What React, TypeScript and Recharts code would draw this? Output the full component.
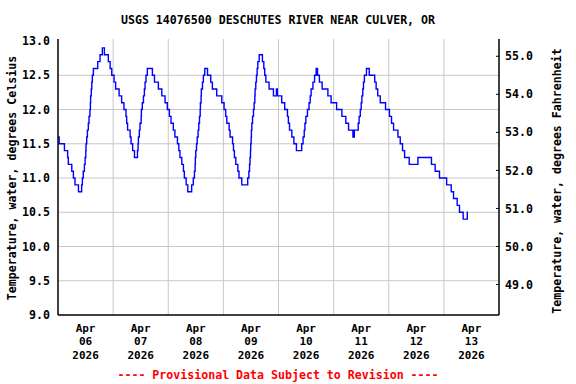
import React from "react";
import { LineChart, Line, XAxis, YAxis, ReferenceLine } from "recharts";

// Hours since Apr 06 2026 00:00 at which the reading changes, and the reading (deg C)
const hours = [
  0, 0.5, 2.8, 4.2, 4.5, 6.0, 6.7, 7.4, 8.9, 10.3, 10.6, 11.0, 11.5, 11.8, 12.1, 12.2, 12.5, 12.8, 13.2, 13.5,
  13.9, 14.1, 14.2, 14.5, 14.7, 14.95, 15.4, 17.3, 18.3, 19.3, 20.2, 21.9, 22.7, 23.4, 24.4, 25.1, 26.6, 27.7, 28.7, 29.6,
  29.9, 30.3, 31.4, 31.8, 32.5, 33.3, 34.6, 34.85, 35.0, 35.4, 35.7, 36.2, 36.3, 36.7, 37.2, 37.6, 37.9, 38.3, 38.9, 41.1,
  42.0, 43.7, 45.2, 46.6, 47.6, 48.5, 49.2, 50.2, 50.9, 52.0, 52.6, 53.1, 53.9, 54.6, 55.0, 55.8, 56.5, 58.2, 58.9, 59.4,
  59.7, 59.8, 60.0, 60.3, 60.6, 61.0, 61.3, 61.6, 61.9, 62.0, 62.3, 62.4, 62.9, 63.3, 63.9, 65.1, 66.5, 67.2, 69.1, 71.3,
  72.3, 73.0, 73.5, 74.5, 74.9, 76.0, 76.4, 76.8, 77.4, 78.3, 78.8, 80.0, 82.6, 83.1, 83.4, 83.6, 83.8, 83.9, 84.1, 84.2,
  84.4, 84.7, 85.1, 85.4, 85.7, 85.8, 86.1, 86.4, 86.7, 87.0, 87.6, 89.0, 89.6, 90.0, 90.5, 91.9, 93.8, 95.1, 95.5, 97.4,
  98.7, 99.9, 100.3, 100.8, 101.8, 102.7, 103.8, 106.1, 106.7, 107.2, 107.5, 107.9, 108.6, 109.3, 109.8, 110.2, 111.0, 111.7, 112.4, 113.0,
  113.8, 115.0, 117.5, 118.9, 121.3, 123.6, 125.3, 126.5, 128.4, 129.0, 130.7, 131.1, 131.6, 132.0, 132.3, 132.7, 133.0, 133.4, 134.3, 135.5,
  137.9, 138.5, 139.2, 140.3, 142.6, 144.3, 145.2, 146.1, 148.0, 149.0, 150.0, 150.9, 152.9, 156.7, 162.6, 164.2, 166.1, 169.2, 171.2, 172.2,
  173.8, 174.8, 176.4, 178.2, 178.5,
];
const tempC = [
  11.6, 11.5, 11.4, 11.3, 11.2, 11.1, 11.0, 10.9, 10.8, 10.9, 11.0, 11.1, 11.2, 11.3, 11.4, 11.5, 11.6, 11.7, 11.8, 11.9,
  12.0, 12.1, 12.2, 12.3, 12.4, 12.5, 12.6, 12.7, 12.8, 12.9, 12.8, 12.7, 12.6, 12.5, 12.4, 12.3, 12.2, 12.1, 12.0, 11.9,
  11.8, 11.7, 11.6, 11.5, 11.4, 11.3, 11.4, 11.5, 11.6, 11.7, 11.8, 11.9, 12.0, 12.1, 12.2, 12.3, 12.4, 12.5, 12.6, 12.5,
  12.4, 12.3, 12.2, 12.1, 12.0, 11.9, 11.8, 11.7, 11.6, 11.5, 11.4, 11.3, 11.2, 11.1, 11.0, 10.9, 10.8, 10.9, 11.0, 11.1,
  11.2, 11.3, 11.4, 11.5, 11.6, 11.7, 11.8, 11.9, 12.0, 12.1, 12.2, 12.3, 12.4, 12.5, 12.6, 12.5, 12.4, 12.3, 12.2, 12.1,
  12.0, 11.9, 11.8, 11.7, 11.6, 11.5, 11.4, 11.3, 11.2, 11.1, 11.0, 10.9, 11.0, 11.1, 11.2, 11.3, 11.4, 11.5, 11.6, 11.7,
  11.8, 11.9, 12.0, 12.1, 12.2, 12.3, 12.4, 12.5, 12.6, 12.7, 12.8, 12.7, 12.6, 12.5, 12.4, 12.3, 12.2, 12.3, 12.2, 12.1,
  12.0, 11.9, 11.8, 11.7, 11.6, 11.5, 11.4, 11.5, 11.6, 11.7, 11.8, 11.9, 12.0, 12.1, 12.2, 12.3, 12.4, 12.5, 12.6, 12.5,
  12.4, 12.3, 12.2, 12.1, 12.0, 11.9, 11.8, 11.7, 11.6, 11.7, 11.8, 11.9, 12.0, 12.1, 12.2, 12.3, 12.4, 12.5, 12.6, 12.5,
  12.4, 12.3, 12.2, 12.1, 12.0, 11.9, 11.8, 11.7, 11.6, 11.5, 11.4, 11.3, 11.2, 11.3, 11.2, 11.1, 11.0, 10.9, 10.8, 10.7,
  10.6, 10.5, 10.4, 10.5, 10.5,
];

// Axis ticks / labels
const dayTickHours = [12, 36, 60, 84, 108, 132, 156, 180];
const dayMonths = ["Apr", "Apr", "Apr", "Apr", "Apr", "Apr", "Apr", "Apr"];
const dayNumbers = ["06", "07", "08", "09", "10", "11", "12", "13"];
const dayYears = ["2026", "2026", "2026", "2026", "2026", "2026", "2026", "2026"];
const midnightHours = [24, 48, 72, 96, 120, 144, 168];
const celsiusTicks = [9.0, 9.5, 10.0, 10.5, 11.0, 11.5, 12.0, 12.5, 13.0];
const celsiusGrid = [9.5, 10.0, 10.5, 11.0, 11.5, 12.0, 12.5];
const fahrenheitTicks = [49, 50, 51, 52, 53, 54, 55];
const celsiusDomain = [9.0, 13.03];
const fahrenheitDomain = celsiusDomain.map((c) => c * 1.8 + 32);

const title = "USGS 14076500 DESCHUTES RIVER NEAR CULVER, OR";
const leftTitle = "Temperature, water, degrees Celsius";
const rightTitle = "Temperature, water, degrees Fahrenheit";
const footer = "---- Provisional Data Subject to Revision ----";

const data = hours.map((h, i) => ({ h, t: tempC[i] }));

const FONT = "'DejaVu Sans Mono', 'Liberation Mono', monospace";
const FS = 11.6;
const FS_DATE = 11;

const DateTick = (props: any) => {
  const { x, y, payload } = props;
  const i = dayTickHours.indexOf(payload.value);
  if (i < 0) return null;
  const st = { fontFamily: FONT, fontSize: FS_DATE, fontWeight: "bold" as const, fill: "#000" };
  return (
    <g>
      <text x={x} y={y + 16.5} textAnchor="middle" style={st}>{dayMonths[i]}</text>
      <text x={x} y={y + 30} textAnchor="middle" style={st}>{dayNumbers[i]}</text>
      <text x={x} y={y + 43.5} textAnchor="middle" style={st}>{dayYears[i]}</text>
    </g>
  );
};

export default function App() {
  const tickStyle = { fontFamily: FONT, fontSize: FS, fontWeight: "bold", fill: "#000" };
  const txt = { fontFamily: FONT, fontSize: FS, fontWeight: "bold" as const };
  return (
    <div style={{ position: "absolute", left: 0, top: 0, width: 576, height: 384, background: "#fff" }}>
      <LineChart
        width={576}
        height={384}
        data={data}
        margin={{ top: 39, right: 0, bottom: 0, left: 0 }}
      >
        <XAxis
          dataKey="h"
          type="number"
          domain={[0, 192]}
          ticks={dayTickHours}
          interval={0}
          tickLine={false}
          tickSize={0}
          tickMargin={0}
          axisLine={{ stroke: "#000", strokeWidth: 1.5 }}
          height={69}
          tick={DateTick}
          allowDataOverflow
        />
        <XAxis
          xAxisId="top"
          orientation="top"
          dataKey="h"
          type="number"
          domain={[0, 192]}
          tick={false}
          tickLine={false}
          height={0}
          axisLine={{ stroke: "#000", strokeWidth: 1.5 }}
        />
        <YAxis
          type="number"
          domain={celsiusDomain}
          ticks={celsiusTicks}
          interval={0}
          width={58}
          tickLine={false}
          tickSize={0}
          tickMargin={8}
          allowDataOverflow
          axisLine={{ stroke: "#000", strokeWidth: 1.5 }}
          tick={tickStyle}
          tickFormatter={(v: number) => v.toFixed(1)}
        />
        <YAxis
          yAxisId="right"
          orientation="right"
          type="number"
          domain={fahrenheitDomain}
          ticks={fahrenheitTicks}
          interval={0}
          width={77}
          tickSize={-3}
          tickMargin={9}
          allowDataOverflow
          tickLine={{ stroke: "#000" }}
          axisLine={{ stroke: "#000", strokeWidth: 1.5 }}
          tick={{ ...tickStyle, textAnchor: "start" }}
          tickFormatter={(v: number) => v.toFixed(1)}
        />
        {midnightHours.map((h) => (
          <ReferenceLine key={"v" + h} x={h} stroke="#c8c8c8" strokeWidth={1} />
        ))}
        {celsiusGrid.map((c) => (
          <ReferenceLine key={"g" + c} y={c} stroke="#c8c8c8" strokeWidth={1} />
        ))}
        <Line
          type="stepAfter"
          dataKey="t"
          stroke="#0000ff"
          strokeWidth={1.4}
          dot={false}
          isAnimationActive={false}
        />
      </LineChart>
      <svg
        width={576}
        height={384}
        style={{ position: "absolute", left: 0, top: 0, pointerEvents: "none" }}
      >
        <text x={278} y={24} textAnchor="middle" style={{ ...txt, fill: "#000" }}>{title}</text>
        <text
          transform="translate(15.5,178) rotate(-90)"
          textAnchor="middle"
          style={{ ...txt, fill: "#000" }}
        >
          {leftTitle}
        </text>
        <text
          transform="translate(560.5,181) rotate(-90)"
          textAnchor="middle"
          style={{ ...txt, fill: "#000" }}
        >
          {rightTitle}
        </text>
        <text x={278} y={379} textAnchor="middle" style={{ ...txt, fill: "#ff0000" }}>{footer}</text>
      </svg>
    </div>
  );
}
